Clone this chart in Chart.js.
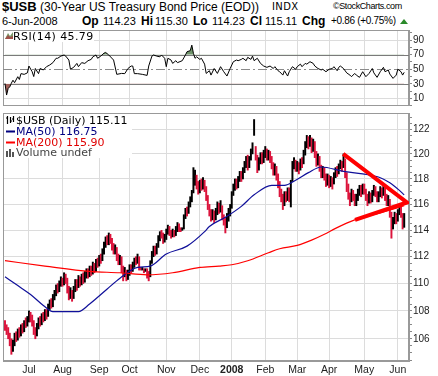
<!DOCTYPE html>
<html>
<head>
<meta charset="utf-8">
<script src="https://cdn.jsdelivr.net/npm/chart.js@4.4.1/dist/chart.umd.min.js"></script>
<style>
body{margin:0;background:#fff;width:438px;height:376px;overflow:hidden;position:relative;}
.t{position:absolute;white-space:nowrap;line-height:1;color:#000;font-family:"Liberation Sans",Arial,sans-serif;}
.lg{font-family:"DejaVu Sans",Verdana,sans-serif;font-size:11px;}
canvas{position:absolute;left:0;}
</style>
</head>
<body>

<div class="t" style="left:2px;top:0px;font-weight:bold;font-size:13px;">$USB</div>
<div class="t" style="left:40px;top:1px;font-size:12px;">(30-Year US Treasury Bond Price (EOD))</div>
<div class="t" style="left:272px;top:2px;font-family:'DejaVu Sans';font-size:10px;letter-spacing:0.4px;">INDX</div>
<div class="t" style="left:333px;top:2px;font-size:9px;letter-spacing:-0.4px;">©StockCharts.com</div>

<div class="t" style="left:2px;top:16px;font-size:11px;">6-Jun-2008</div>
<div class="t" style="left:82px;top:15px;font-size:12px;font-weight:bold;">Op</div>
<div class="t" style="left:103px;top:16px;font-size:11px;">114.23</div>
<div class="t" style="left:141px;top:15px;font-size:12px;font-weight:bold;">Hi</div>
<div class="t" style="left:155px;top:16px;font-size:11px;">115.30</div>
<div class="t" style="left:193px;top:15px;font-size:12px;font-weight:bold;">Lo</div>
<div class="t" style="left:212px;top:16px;font-size:11px;">114.23</div>
<div class="t" style="left:250px;top:15px;font-size:12px;font-weight:bold;">Cl</div>
<div class="t" style="left:265px;top:16px;font-size:11px;">115.11</div>
<div class="t" style="left:302px;top:15px;font-size:12px;font-weight:bold;">Chg</div>
<div class="t" style="left:331px;top:16px;font-size:10px;letter-spacing:-0.3px;">+0.86 (+0.75%)</div>
<svg style="position:absolute;left:400px;top:19px" width="8" height="5"><polygon points="0,5 4,0 8,5" fill="#2a8a2a"/></svg>

<canvas id="rsiChart" width="438" height="76" style="top:30px"></canvas>
<canvas id="priceChart" width="438" height="263" style="top:113px"></canvas>

<!-- RSI legend -->
<div style="position:absolute;left:4px;top:31px;width:90px;height:11px;background:#fff"></div>
<svg style="position:absolute;left:5px;top:32px" width="8" height="7"><polygon points="0,7 3,1 5,4 8,0 8,7" fill="#7a9a6a"/><polygon points="0,7 3,3 5,5 8,4 8,7" fill="#a0504a"/></svg>
<div class="t lg" style="left:13px;top:31px;letter-spacing:0.4px;">RSI(14) 45.79</div>

<!-- price legend -->
<div style="position:absolute;left:4px;top:114px;width:128px;height:44px;background:#fff"></div>
<svg style="position:absolute;left:6px;top:116px" width="9" height="8"><path d="M1.5 0V8M4.5 1V7M7.5 0V6M0 2H1.5M4.5 5H6M6 3H7.5" stroke="#000" stroke-width="1.2"/></svg>
<div class="t lg" style="left:16px;top:114.7px;">$USB (Daily) 115.11</div>
<svg style="position:absolute;left:6px;top:130px" width="9" height="3"><rect x="0" y="0.5" width="9" height="2" fill="#000080"/></svg>
<div class="t lg" style="left:16px;top:126.2px;color:#000080;">MA(50) 116.75</div>
<svg style="position:absolute;left:6px;top:141px" width="9" height="3"><rect x="0" y="0.5" width="9" height="2" fill="#ff0000"/></svg>
<div class="t lg" style="left:16px;top:137px;color:#e00000;">MA(200) 115.90</div>
<svg style="position:absolute;left:6px;top:148px" width="9" height="9"><rect x="0" y="3" width="2" height="6" fill="#555"/><rect x="3" y="1" width="2" height="8" fill="#555"/><rect x="6" y="4" width="2" height="5" fill="#555"/></svg>
<div class="t lg" style="left:16px;top:147.4px;color:#444;">Volume undef</div>

<script>
// month grid positions (trading day index) and labels
const monthIdx = [15, 36, 59, 78, 101, 122, 142, 163, 183, 203, 225, 246];
const monthLabels = ['Jul', 'Aug', 'Sep', 'Oct', 'Nov', 'Dec', '2008', 'Feb', 'Mar', 'Apr', 'May', 'Jun'];

// daily bars, 11-Jun-2007 .. 6-Jun-2008
const closes = [
106.9,106.5,106.3,105.9,105.4,105.6,106.2,106.0,106.5,106.3,
106.8,106.6,107.1,107.0,107.4,107.7,107.5,107.2,106.6,106.3,
106.9,107.3,107.1,107.6,107.4,107.9,107.6,108.3,108.6,108.4,
109.0,109.2,109.7,109.5,110.0,110.2,110.0,110.5,110.3,109.6,
109.1,109.4,108.9,109.6,110.1,109.8,110.3,110.0,110.5,110.3,
110.6,110.9,110.6,111.1,110.8,111.3,111.0,111.6,111.5,111.9,
111.7,112.4,112.9,113.3,113.1,113.5,113.2,112.8,112.5,112.6,
112.0,111.7,111.9,111.1,110.7,110.9,110.5,110.8,111.2,111.0,
111.4,111.7,111.6,112.0,111.3,111.1,111.1,110.9,111.0,110.7,
110.5,111.6,112.2,112.5,112.4,112.8,113.4,113.7,113.6,113.3,
113.4,113.9,114.2,113.9,113.6,113.9,113.7,114.1,114.4,114.1,
114.0,114.1,115.0,115.5,115.3,116.0,116.4,116.9,117.8,118.2,
117.5,117.1,117.6,117.4,117.8,117.3,116.6,115.9,115.4,115.0,
115.3,114.9,115.4,115.9,115.6,115.9,115.0,114.7,114.5,114.9,
115.4,115.8,116.8,117.3,117.7,117.5,118.0,118.3,118.1,118.7,
119.2,119.5,119.0,119.6,120.2,120.6,122.1,119.8,118.9,119.4,
119.8,119.5,120.0,120.3,119.8,120.1,119.6,119.2,118.6,118.9,
118.2,117.6,117.0,116.6,116.1,116.8,116.5,117.1,116.6,117.4,
119.0,119.4,118.9,119.2,118.8,119.4,119.2,120.1,120.7,121.2,
120.8,121.3,120.4,120.9,120.0,119.4,119.7,118.9,118.4,118.7,
118.2,117.8,118.2,117.6,117.9,117.5,118.3,118.7,118.5,119.0,
119.3,118.9,119.6,118.4,117.4,116.8,116.3,116.9,116.6,116.2,
116.5,116.9,117.3,116.9,117.4,117.1,116.6,116.3,116.8,116.4,
116.9,117.3,116.9,116.5,116.8,117.2,116.8,117.3,116.6,116.2,
116.5,115.3,114.3,114.7,115.1,114.8,115.4,115.8,115.2,114.25,
115.11
];
const highs = [
107.3,107.0,106.8,106.4,106.0,105.9,106.4,106.5,106.7,106.8,
107.0,107.1,107.3,107.5,107.6,108.0,107.9,107.7,107.3,106.8,
107.1,107.5,107.6,107.8,107.9,108.1,108.1,108.5,108.8,108.9,
109.2,109.5,109.9,110.0,110.2,110.5,110.4,110.8,110.7,110.4,
109.8,109.7,109.5,109.8,110.3,110.3,110.6,110.5,110.7,110.8,
110.9,111.1,111.1,111.3,111.3,111.6,111.5,111.8,111.9,112.1,
112.2,112.6,113.1,113.5,113.6,113.8,113.7,113.4,113.0,112.9,
112.7,112.2,112.1,112.0,111.3,111.2,111.0,111.0,111.4,111.4,
111.6,111.9,112.0,112.2,112.0,111.2,111.2,111.1,111.1,111.1,
110.9,111.7,112.4,112.8,112.8,113.0,113.6,113.9,114.0,113.8,
113.7,114.1,114.4,114.3,114.0,114.1,114.0,114.3,114.6,114.5,
114.2,114.2,115.2,115.7,115.8,116.2,116.6,117.1,118.9,118.7,
118.3,117.8,117.9,118.0,118.1,117.9,117.4,116.7,116.0,115.6,
115.6,115.5,115.7,116.2,116.1,116.3,115.9,115.2,115.0,115.3,
115.7,116.0,117.0,117.6,118.0,118.0,118.2,118.6,118.6,118.9,
119.4,119.8,119.9,119.8,120.4,120.9,122.8,120.6,119.9,119.7,
120.1,120.1,120.3,120.6,120.4,120.3,120.2,119.8,119.3,119.2,
119.0,118.4,117.8,117.2,116.8,117.0,117.0,117.3,117.3,117.9,
119.4,119.7,119.5,119.4,119.3,119.6,119.7,120.3,121.0,121.5,
121.4,121.5,121.3,121.2,121.0,120.2,120.0,119.8,119.1,119.0,
118.9,118.4,118.4,118.3,118.2,118.1,118.5,118.9,119.0,119.2,
119.5,119.4,120.0,119.6,118.5,117.6,116.9,117.2,117.1,116.8,
116.8,117.2,117.5,117.5,117.6,117.6,117.2,116.8,117.0,116.9,
117.1,117.5,117.4,117.0,117.0,117.4,117.3,117.5,117.3,116.8,
116.7,116.4,115.4,115.0,115.4,115.3,115.6,116.0,115.9,115.3,
115.30
];
const lows = [
106.6,106.3,106.0,105.5,104.9,105.1,105.5,105.8,105.9,106.1,
106.2,106.4,106.5,106.8,106.9,107.2,107.2,106.9,106.3,106.0,
106.2,106.7,106.9,107.0,107.2,107.3,107.4,107.6,108.1,108.2,
108.3,108.8,109.1,109.3,109.4,109.8,109.8,109.9,110.0,109.3,
108.8,108.9,108.7,108.9,109.4,109.5,109.7,109.8,109.9,110.0,
110.1,110.4,110.4,110.5,110.6,110.7,110.8,110.9,111.2,111.3,
111.5,111.7,112.2,112.7,112.9,112.9,113.0,112.5,112.2,112.2,
111.7,111.4,111.4,110.8,110.2,110.5,110.2,110.3,110.6,110.8,
110.9,111.2,111.4,111.5,111.0,111.0,111.0,110.8,110.9,110.4,
110.2,110.5,111.5,112.0,112.1,112.2,112.7,113.2,113.4,113.0,
113.1,113.3,113.7,113.6,113.4,113.5,113.5,113.6,113.9,113.9,
113.9,114.0,114.1,114.9,115.1,115.3,115.8,116.2,116.9,117.5,
117.2,116.8,116.9,117.1,117.2,117.0,116.3,115.6,115.1,114.7,
114.8,114.6,114.8,115.2,115.3,115.4,114.8,114.4,113.8,114.2,
114.7,115.1,115.7,116.7,117.1,117.2,117.3,117.8,117.8,118.0,
118.5,118.9,118.7,118.9,119.5,120.0,121.5,119.5,118.5,118.7,
119.2,119.2,119.3,119.7,119.5,119.5,119.3,118.8,118.3,118.3,
117.9,117.3,116.6,116.2,115.6,115.9,116.2,116.3,116.2,115.8,
117.8,118.8,118.6,118.6,118.4,118.7,118.9,119.2,119.9,120.5,
120.4,120.6,120.1,120.2,119.7,119.0,119.1,118.6,118.1,118.1,
117.9,117.4,117.5,117.3,117.4,117.2,117.6,118.1,118.2,118.4,
118.8,118.6,118.9,118.1,117.0,116.4,115.9,116.2,116.3,115.9,
115.9,116.3,116.7,116.6,116.8,116.8,116.3,115.9,116.1,116.1,
116.2,116.7,116.6,116.2,116.2,116.6,116.5,116.7,116.3,115.9,
115.9,115.0,113.4,114.1,114.5,114.5,114.7,115.2,115.0,114.1,
114.23
];
const prevClose0 = 107.3;

// moving averages, read at a few points
const ma50Idx = [0, 8, 16, 24, 30, 46, 53, 64, 72, 83, 91, 101, 114, 125, 128, 138, 148, 156, 167, 175, 182, 190, 198, 212, 224, 235, 241, 247, 250];
const ma50Vals = [110.5, 109.85, 109.2, 108.4, 107.95, 107.95, 108.5, 109.6, 110.4, 111.2, 111.3, 112.2, 112.8, 113.9, 114.3, 115.0, 115.85, 116.75, 117.5, 117.5, 117.9, 118.5, 118.95, 118.6, 118.4, 118.1, 117.7, 117.1, 116.75];
const ma200Idx = [0, 25, 53, 72, 89, 105, 122, 134, 142, 152, 165, 172, 183, 192, 200, 207, 219, 235, 250];
const ma200Vals = [111.7, 111.3, 110.9, 110.8, 110.65, 110.8, 111.2, 111.3, 111.4, 111.7, 112.3, 112.6, 112.85, 113.25, 113.7, 114.15, 114.8, 115.35, 115.9];

// hand-drawn triangle (upper end, tip, lower end)
const triIdx = [211.8, 251.7, 219.2];
const triVals = [120.0, 116.15, 114.8];

// RSI(14)
const rsiIdx = [0,1,2,3,4,5,6,8,9,10, 12,14,15,17,18,19,21,22,24,26, 28,30,32,33,35,37,38,40,41,43,
  45,46,48,50,52,54,55,57,58,60, 62,63,65,68,70,73,75,77,79,80, 81,83,86,89,90,92,93,95,97,98,
  100,101,102,104,105,107,108,111,113,114, 116,117,118,119,120,122,123,125,126,128,
  129,131,133,135,137,139,141,143,145,146, 148,149,151,152,154,155,156,158,160,162,
  164,166,168,169,171,172,174,175,177,178, 180,182,183,185,186,188,189,191,193,194,
  196,198,199,201,203,205,206,208,209,210, 212,214,216,217,219,220,222,224,226,228,
  230,231,233,235,237,238,240,241,243,245, 246,248,249,250];
const rsiVals = [30.6,14.7,23.8,26,31,35,31.6,39.8,36,44, 43,45,54.4,46.6,40,51,44,51,49,53.5,
  55.8,59,65,65,68,69.5,68,62.6,50,52.6, 58,53.5,59,58,61.7,63.5,67,69.5,65,68,
  72,73,69.5,62.6,43,44.3,44,51,54.4,54.4, 44,44,43,41.6,54.4,68,69.5,68,67,69.5,
  65,53.5,65,62.6,58,61.7,59,61.7,69.5,74, 75.4,83,71.7,65,67,63.5,65,57,44.3,48,
  42,51,44.3,53.5,46.6,40.7,51,60.3,62.6,61.7, 63.5,65,61.7,66.3,63.5,68,61.7,65,58,54.4,
  52.6,54.4,51,53.5,48,46.6,42,48,40.7,46.6, 53.5,50,53.5,57,53.5,58,57,60.3,58,54.4,
  51,49,50,46.6,50,51,53.5,48,52.6,54.4, 51,45,42,39.8,44.3,42,38.9,46.6,39.8,44.3,
  51,45,38.9,46.6,52.6,46.6,49,43.4,37.5,42, 50,46.6,42,45.79];

const priceTicks = [106, 108, 110, 112, 114, 116, 118, 120, 122];
const rsiTicks = [10, 30, 50, 70, 90];

Chart.defaults.font.family = "'Liberation Sans', Arial, sans-serif";
Chart.defaults.color = '#222';

const UP = '#000000';
const DOWN = '#dc143c';
const GRID = '#dcdcdc';

const framePlugin = {
  id: 'frame',
  beforeDatasetsDraw(chart) {
    const {ctx, chartArea: a} = chart;
    ctx.save();
    ctx.strokeStyle = '#999';
    ctx.lineWidth = 1;
    ctx.strokeRect(a.left + 0.5, a.top + 0.5, a.right - a.left - 1, a.bottom - a.top - 1);
    ctx.restore();
  }
};

const rsiLevels = {
  id: 'rsiLevels',
  beforeDatasetsDraw(chart) {
    const {ctx, chartArea: a, scales: {y}} = chart;
    ctx.save();
    ctx.strokeStyle = '#7a7a7a';
    ctx.lineWidth = 1;
    [30, 70].forEach(v => {
      const py = Math.round(y.getPixelForValue(v)) + 0.5;
      ctx.beginPath(); ctx.moveTo(a.left, py); ctx.lineTo(a.right, py); ctx.stroke();
    });
    ctx.strokeStyle = '#8a8a8a';
    ctx.setLineDash([9, 3, 2, 3]);
    const p = Math.round(y.getPixelForValue(50)) + 0.5;
    ctx.beginPath(); ctx.moveTo(a.left, p); ctx.lineTo(a.right, p); ctx.stroke();
    ctx.restore();
  }
};

function xAxis(showLabels) {
  return {
    type: 'linear',
    min: -1.25,
    max: 253,
    offset: false,
    afterBuildTicks: s => { s.ticks = monthIdx.map(v => ({value: v})); },
    afterFit: s => { s.height = showLabels ? 15 : 0; s.paddingLeft = 0; s.paddingRight = 0; },
    grid: {color: GRID, drawTicks: false, offset: false},
    border: {display: showLabels, color: '#999'},
    ticks: {
      display: showLabels,
      autoSkip: false,
      maxRotation: 0,
      padding: 3,
      color: '#222',
      font: c => ({size: 10.5, weight: c.index === 6 ? 'bold' : 'normal'}),
      callback: (v, i) => monthLabels[i]
    }
  };
}

// ===== RSI panel =====
const rsiPts = rsiIdx.map((x, k) => ({x: x, y: rsiVals[k]}));

new Chart(document.getElementById('rsiChart'), {
  type: 'line',
  data: {
    datasets: [{
      data: rsiPts,
      borderColor: '#000',
      borderWidth: 1,
      pointRadius: 0,
      fill: {target: {value: 30}, above: 'rgba(0,0,0,0)', below: '#a0605a'}
    }, {
      data: rsiPts,
      borderColor: 'rgba(0,0,0,0)',
      borderWidth: 0,
      pointRadius: 0,
      fill: {target: {value: 70}, above: '#6f946a', below: 'rgba(0,0,0,0)'}
    }]
  },
  options: {
    responsive: false,
    animation: false,
    devicePixelRatio: 1,
    layout: {padding: {left: 3, right: 0, top: 0, bottom: 0}},
    plugins: {legend: {display: false}, tooltip: {enabled: false}},
    scales: {
      x: xAxis(false),
      y: {
        position: 'right',
        min: -0.3,
        max: 103.7,
        afterBuildTicks: s => {
          const t = [];
          for (let v = 0; v <= 100; v += 10) t.push({value: v});
          s.ticks = t;
        },
        afterFit: s => { s.width = 29; s.paddingTop = 0; s.paddingBottom = 0; },
        grid: {
          color: c => (c.tick && (c.tick.value === 10 || c.tick.value === 90)) ? GRID : 'rgba(0,0,0,0)',
          tickColor: '#888',
          tickLength: 3
        },
        border: {color: '#999'},
        ticks: {
          autoSkip: false,
          padding: 1,
          color: '#222',
          font: {size: 10},
          callback: v => rsiTicks.includes(v) ? String(v) : ''
        }
      }
    }
  },
  plugins: [framePlugin, rsiLevels]
});

// ===== price panel =====
const barData = closes.map((c, i) => ({x: i, y: [lows[i], highs[i]]}));
const barColors = closes.map((c, i) => c >= (i ? closes[i - 1] : prevClose0) ? UP : DOWN);

new Chart(document.getElementById('priceChart'), {
  type: 'line',
  data: {
    datasets: [{
      type: 'bar',
      data: barData,
      backgroundColor: barColors,
      borderWidth: 0,
      barThickness: 1.3,
      order: 3
    }, {
      data: ma200Idx.map((x, k) => ({x: x, y: ma200Vals[k]})),
      borderColor: '#ff0000',
      borderWidth: 1.2,
      pointRadius: 0,
      cubicInterpolationMode: 'monotone',
      order: 2
    }, {
      data: ma50Idx.map((x, k) => ({x: x, y: ma50Vals[k]})),
      borderColor: '#10109a',
      borderWidth: 1.2,
      pointRadius: 0,
      cubicInterpolationMode: 'monotone',
      order: 2
    }, {
      data: triIdx.map((x, k) => ({x: x, y: triVals[k]})),
      borderColor: '#ff0000',
      borderWidth: 4,
      borderJoinStyle: 'miter',
      pointRadius: 0,
      order: 1
    }]
  },
  options: {
    responsive: false,
    animation: false,
    devicePixelRatio: 1,
    layout: {padding: {left: 3, right: 0, top: 0, bottom: 0}},
    plugins: {legend: {display: false}, tooltip: {enabled: false}},
    scales: {
      x: xAxis(true),
      y: {
        type: 'logarithmic',
        position: 'right',
        min: 104.43,
        max: 123.34,
        beginAtZero: false,
        afterBuildTicks: s => {
          const t = [];
          for (let v = 104.5; v <= 123; v += 0.5) t.push({value: v});
          s.ticks = t;
        },
        afterFit: s => { s.width = 29; s.paddingTop = 0; s.paddingBottom = 0; },
        grid: {
          color: c => (c.tick && priceTicks.includes(c.tick.value)) ? GRID : 'rgba(0,0,0,0)',
          tickColor: '#888',
          tickLength: 3
        },
        border: {color: '#999'},
        ticks: {
          autoSkip: false,
          padding: 1,
          color: '#222',
          font: {size: 10},
          callback: v => priceTicks.includes(v) ? String(v) : ''
        }
      }
    }
  },
  plugins: [framePlugin]
});
</script>
</body>
</html>
